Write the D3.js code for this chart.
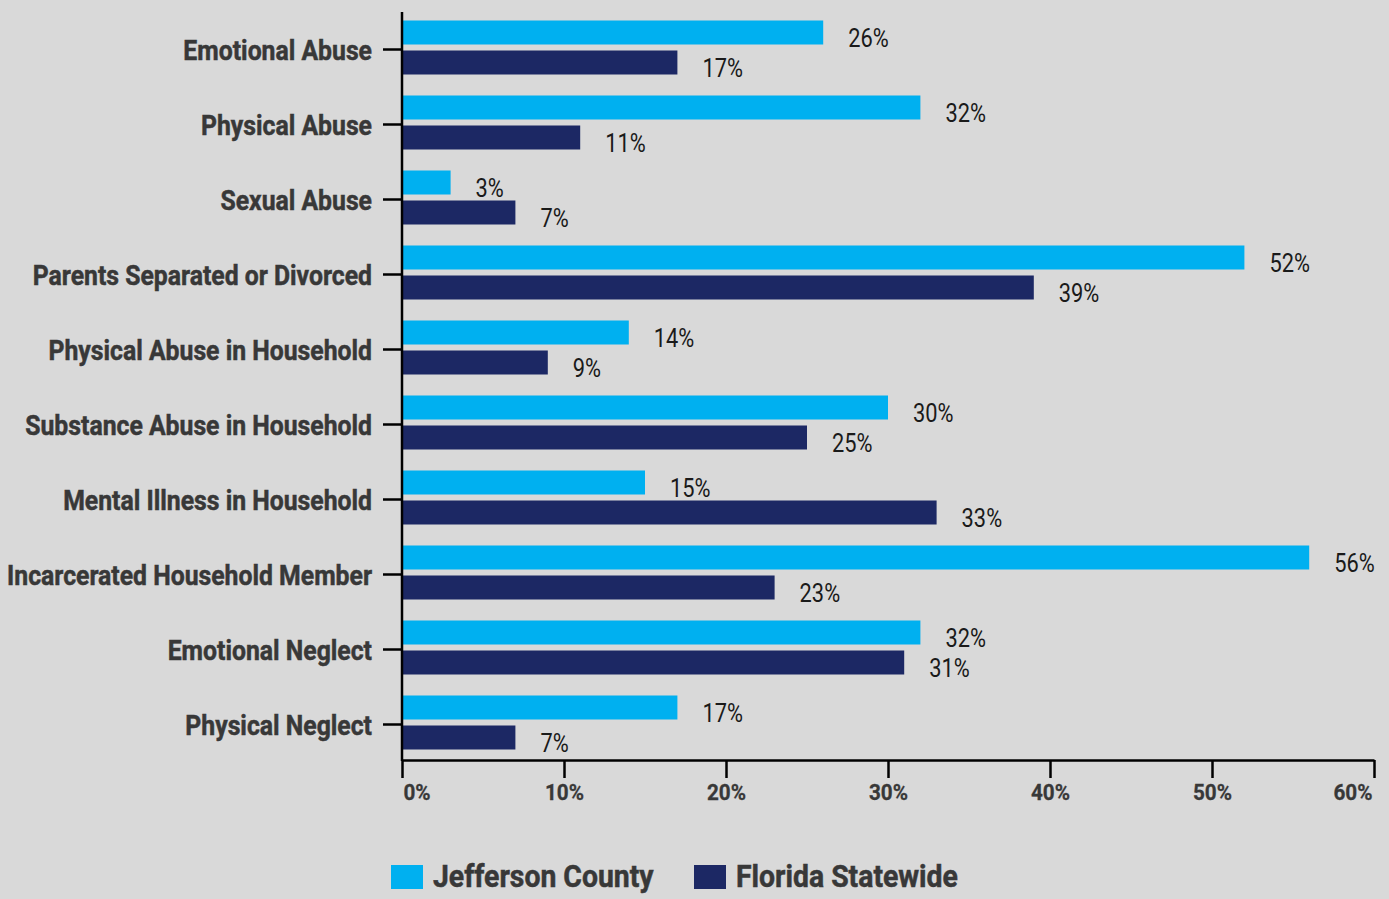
<!DOCTYPE html>
<html><head><meta charset="utf-8">
<script src="https://cdn.jsdelivr.net/npm/d3@7/dist/d3.min.js"></script>
<style>
html,body{margin:0;padding:0;background:#d9d9d9;}
svg{display:block;font-family:Roboto, "Noto Sans", sans-serif;}
</style></head>
<body>
<svg id="c" width="1389" height="899"></svg>
<script>
const categories = ["Emotional Abuse","Physical Abuse","Sexual Abuse","Parents Separated or Divorced","Physical Abuse in Household","Substance Abuse in Household","Mental Illness in Household","Incarcerated Household Member","Emotional Neglect","Physical Neglect"];
const jefferson = [26,32,3,52,14,30,15,56,32,17];
const florida = [17,11,7,39,9,25,33,23,31,7];
const seriesNames = ["Jefferson County","Florida Statewide"];
const seriesColors = ["#00b0f0","#1c2864"];
const xTicks = [0,10,20,30,40,50,60];

const COND_VAL = 0.84, COND_CAT = 0.885, COND_TICK = 0.92, COND_LEG = 0.915;
const svg = d3.select("#c");
svg.append("rect").attr("width",1389).attr("height",899).attr("fill","#d9d9d9");

const x = d3.scaleLinear().domain([0,60]).range([402,1374]);
const y = d3.scaleBand().domain(categories).range([12,762]);
const half = y.bandwidth()/2;
const barH = 24;
const offs = [-29, 1];
const series = [jefferson, florida];

// bars
series.forEach((vals,si)=>{
  const g = svg.append("g");
  g.selectAll("rect").data(categories).join("rect")
    .attr("x", x(0))
    .attr("y", c => y(c)+half+offs[si])
    .attr("width", (c,i)=> x(vals[i])-x(0))
    .attr("height", barH)
    .attr("fill", seriesColors[si]);
  g.selectAll("g.lab").data(categories).join("g").attr("class","lab")
    .attr("transform",(c,i)=>`translate(${x(vals[i])+25},${y(c)+half+offs[si]+barH+2}) scale(${COND_VAL},1)`)
    .append("text")
    .attr("font-size",26).attr("fill","#1a1a1a")
    .text((c,i)=>vals[i]+"%");
});

// y axis
const yAxis = svg.append("g").attr("transform",`translate(${x(0)},0)`)
  .call(d3.axisLeft(y).tickSize(19).tickPadding(0));
yAxis.select(".domain").remove();
yAxis.selectAll(".tick line").attr("stroke","#000").attr("stroke-width",2.5);
yAxis.selectAll(".tick text")
  .attr("x",0).attr("dy","0.36em")
  .attr("transform",`translate(-30,0) scale(${COND_CAT},1)`)
  .attr("font-size",28).attr("font-weight",700).attr("fill","#383838")
  .attr("stroke","#383838").attr("stroke-width",0.5)
  .attr("font-family","Roboto, sans-serif");
svg.append("line").attr("x1",x(0)).attr("x2",x(0)).attr("y1",12).attr("y2",761)
  .attr("stroke","#000").attr("stroke-width",2.5);

// x axis
const xAxis = svg.append("g").attr("transform","translate(0,760)")
  .call(d3.axisBottom(x).tickValues(xTicks).tickFormat(d=>d+"%").tickSize(18).tickPadding(0).tickSizeOuter(0));
xAxis.select(".domain").attr("stroke","#000").attr("stroke-width",2.5);
xAxis.selectAll(".tick line").attr("stroke","#000").attr("stroke-width",2.5);
xAxis.selectAll(".tick text")
  .attr("y",24).attr("dy","0.71em")
  .attr("transform",`scale(${COND_TICK},1)`)
  .attr("font-size",22.5).attr("font-weight",700).attr("fill","#383838")
  .attr("stroke","#383838").attr("stroke-width",0.3)
  .attr("font-family","Roboto, sans-serif")
  .attr("text-anchor",(d,i)=> i===0?"start": (i===xTicks.length-1?"end":"middle"))
  .attr("x",(d,i)=> i===0? 1/COND_TICK : (i===xTicks.length-1? -2/COND_TICK : 0));

// legend
const legX = [391, 694];
const lg = svg.append("g");
seriesNames.forEach((n,i)=>{
  lg.append("rect").attr("x",legX[i]).attr("y",865).attr("width",32).attr("height",24).attr("fill",seriesColors[i]);
  lg.append("g").attr("transform",`translate(${legX[i]+42},887) scale(${COND_LEG},1)`)
    .append("text").attr("font-size",31).attr("font-weight",700).attr("fill","#383838")
    .attr("stroke","#383838").attr("stroke-width",0.5).text(n);
});
</script>
</body></html>
